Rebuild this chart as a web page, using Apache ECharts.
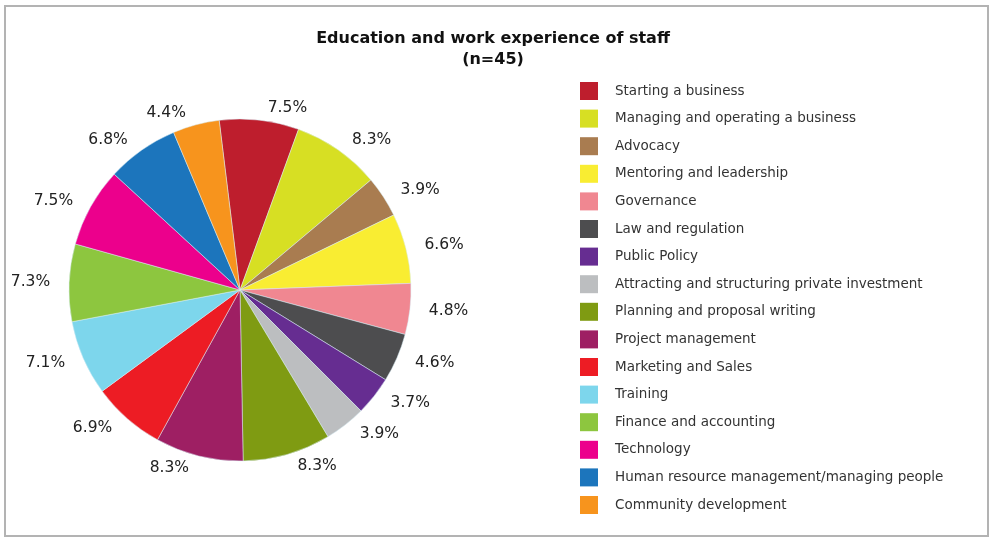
<!DOCTYPE html>
<html>
<head>
<meta charset="utf-8">
<script src="https://cdn.jsdelivr.net/npm/echarts@6/dist/echarts.min.js"></script>
<style>
  html, body { margin: 0; padding: 0; background: #fff; }
  #chart { width: 993px; height: 539px; }
</style>
</head>
<body>
<div id="chart"></div>
<script>
// Share of staff with education/work experience per topic (percent)
const categories = [
  'Starting a business',
  'Managing and operating a business',
  'Advocacy',
  'Mentoring and leadership',
  'Governance',
  'Law and regulation',
  'Public Policy',
  'Attracting and structuring private investment',
  'Planning and proposal writing',
  'Project management',
  'Marketing and Sales',
  'Training',
  'Finance and accounting',
  'Technology',
  'Human resource management/managing people',
  'Community development'
];
const shares = [7.5, 8.3, 3.9, 6.6, 4.8, 4.6, 3.7, 3.9, 8.3, 8.3, 6.9, 7.1, 7.3, 7.5, 6.8, 4.4];
const colors = [
  '#be1e2d', '#d7df23', '#a97c50', '#f9ed32', '#f08791', '#4d4d4f', '#662d91', '#bcbec0',
  '#7f9b12', '#9e1f63', '#ed1c24', '#7dd6ec', '#8dc63f', '#ec008c', '#1c75bc', '#f7941d'
];

const FONT = 'DejaVu Sans';
const chart = echarts.init(document.getElementById('chart'), null, { renderer: 'canvas' });

chart.setOption({
  backgroundColor: '#ffffff',
  animation: false,
  color: colors,
  title: {
    text: 'Education and work experience of staff\n(n=45)',
    left: 488,
    textAlign: 'center',
    top: 23,
    textStyle: { fontFamily: FONT, fontSize: 16, fontWeight: 'bold', color: '#111', lineHeight: 21 }
  },
  legend: {
    orient: 'vertical',
    left: 580,
    top: 82,
    padding: 0,
    height: 450,
    icon: 'rect',
    itemWidth: 18,
    itemHeight: 18,
    itemGap: 9.6,
    itemStyle: { borderWidth: 0 },
    textStyle: { fontFamily: FONT, fontSize: 13.5, color: '#333', padding: [0, 0, 0, 12] },
    data: categories
  },
  graphic: [{
    type: 'rect',
    shape: { x: 5, y: 6, width: 983, height: 530 },
    style: { fill: 'none', stroke: '#b3b3b3', lineWidth: 2 },
    silent: true
  }],
  series: [{
    type: 'pie',
    center: [240, 290],
    radius: 171,
    startAngle: 97,
    clockwise: true,
    avoidLabelOverlap: false,
    itemStyle: { borderColor: '#d8eef6', borderWidth: 0.5 },
    label: {
      show: true,
      position: 'outside',
      formatter: p => p.value.toFixed(1) + '%',
      fontFamily: FONT,
      fontSize: 15.5,
      color: '#222'
    },
    labelLine: { show: false, length: 12, length2: 2 },
    data: categories.map((name, i) => ({ name, value: shares[i] }))
  }]
});
</script>
</body>
</html>
